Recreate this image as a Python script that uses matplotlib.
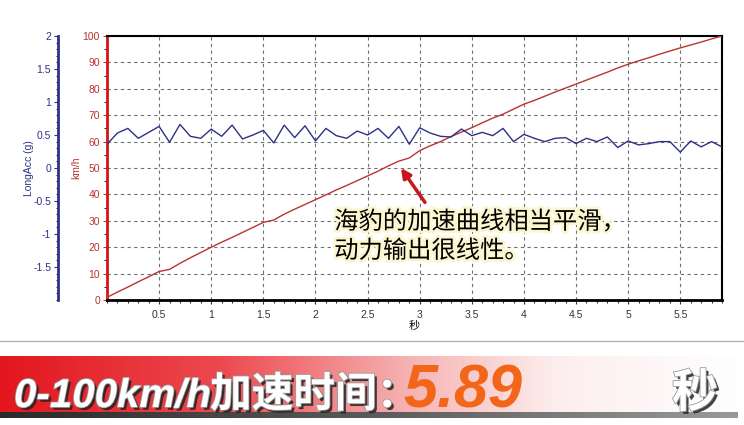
import numpy as np
import matplotlib
matplotlib.use('Agg')
import matplotlib.pyplot as plt
import matplotlib.patheffects as pe
from matplotlib import font_manager
from matplotlib.colors import LinearSegmentedColormap
from matplotlib.ticker import MultipleLocator

plt.rcParams['font.family'] = ['Liberation Sans', 'Noto Sans CJK SC', 'DejaVu Sans']

# samples every 0.1 s
time_s = np.round(np.arange(60) * 0.1, 1)

speed_kmh = [1.0, 3.0, 4.9, 6.9, 8.8, 10.8, 11.6, 13.9, 16.0, 18.0,
             20.0, 21.9, 23.7, 25.6, 27.5, 29.4, 30.3, 32.5, 34.4, 36.2,
             38.0, 39.8, 41.7, 43.4, 45.2, 47.0, 48.8, 50.8, 52.6, 53.8,
             56.6, 58.4, 60.0, 61.9, 63.6, 65.3, 67.1, 68.9, 70.4, 72.3,
             74.2, 75.6, 77.2, 78.8, 80.3, 81.8, 83.3, 84.8, 86.3, 87.9,
             89.3, 90.6, 91.8, 93.1, 94.3, 95.5, 96.6, 97.7, 98.9, 100.0]

long_acc_g = [0.36, 0.53, 0.60, 0.45, 0.54, 0.63, 0.39, 0.66, 0.48, 0.45,
              0.59, 0.48, 0.65, 0.44, 0.50, 0.57, 0.38, 0.65, 0.46, 0.64,
              0.41, 0.60, 0.49, 0.45, 0.56, 0.50, 0.60, 0.45, 0.63, 0.36,
              0.61, 0.53, 0.48, 0.47, 0.59, 0.49, 0.54, 0.49, 0.60, 0.40,
              0.51, 0.45, 0.40, 0.45, 0.46, 0.37, 0.45, 0.40, 0.47, 0.31,
              0.41, 0.35, 0.37, 0.40, 0.40, 0.24, 0.41, 0.32, 0.40, 0.32]

x_ticks = [0.5, 1, 1.5, 2, 2.5, 3, 3.5, 4, 4.5, 5, 5.5]
x_ticklabels = ['0.5', '1', '1.5', '2', '2.5', '3', '3.5', '4', '4.5', '5', '5.5']
speed_ticks = list(range(0, 101, 10))
acc_ticks = [-1.5, -1, -0.5, 0, 0.5, 1, 1.5, 2]
acc_ticklabels = ['-1.5', '-1', '-0.5', '0', '0.5', '1', '1.5', '2']

note_text = '海豹的加速曲线相当平滑，\n动力输出很线性。'
banner_left = '0-100km/h'
banner_cjk = '加速时间：'
banner_value = '5.89'
banner_unit = '秒'

red = '#b8342e'
blue = '#2e3185'

fig = plt.figure(figsize=(7.44, 4.25), dpi=100)

# background layer in pixel coordinates
bg = fig.add_axes([0, 0, 1, 1], zorder=-1)
bg.axis('off')
banner_cmap = LinearSegmentedColormap.from_list(
    'banner', [(0, '#e3161e'), (0.3, '#ec4a50'), (0.55, '#f6b3b3'),
               (0.75, '#fdeeee'), (1, '#ffffff')])
shadow_cmap = LinearSegmentedColormap.from_list('shadow', ['#2a2a2a', '#5a5a5a', '#9a9a9a'])
grad = np.linspace(0, 1, 256).reshape(1, -1)
bg.imshow(grad, cmap=banner_cmap, extent=(0, 744, 412, 356), aspect='auto')
bg.imshow(grad, cmap=shadow_cmap, extent=(0, 738, 418, 412), aspect='auto')
bg.plot([0, 744], [341, 341], color='#b5b5b5', lw=1)
bg.set_xlim(0, 744)
bg.set_ylim(425, 0)

names = {f.name for f in font_manager.fontManager.ttflist}
if 'Liberation Sans Narrow' in names:
    latin_font, latin_size = 'Liberation Sans Narrow', 36
else:
    latin_font, latin_size = 'Liberation Sans', 29

shadow_fx = [pe.SimplePatchShadow(offset=(2, -2), shadow_rgbFace='#222222', alpha=0.85),
             pe.Stroke(linewidth=1.2, foreground='#9a9a9a'), pe.Normal()]
bg.text(14, 407, banner_left, family=[latin_font, 'DejaVu Sans'], fontsize=latin_size,
        weight='bold', style='italic', color='white', va='baseline', path_effects=shadow_fx)
bg.text(210, 407, banner_cjk, family=['Noto Sans CJK SC'], fontsize=30,
        weight='bold', color='white', va='baseline', path_effects=shadow_fx)
bg.text(403, 407, banner_value, family=['Liberation Sans'], fontsize=44,
        weight='bold', style='italic', color='#f2661a', va='baseline')
bg.text(672, 407, banner_unit, family=['Noto Sans CJK SC'], fontsize=33,
        weight='bold', color='white', va='baseline', path_effects=shadow_fx)

# main chart
ax = fig.add_axes([107 / 744, 125 / 425, 615 / 744, 264 / 425])
ax.plot(time_s, speed_kmh, color=red, lw=1.0, zorder=3)
ax.set_xlim(0, 5.9)
ax.set_ylim(0, 100)
ax.set_xticks(x_ticks)
ax.set_xticklabels(x_ticklabels)
ax.xaxis.set_minor_locator(MultipleLocator(0.1))
ax.set_yticks(speed_ticks)
ax.yaxis.set_minor_locator(MultipleLocator(5))
ax.grid(True, which='major', color='#707070', linestyle=(0, (3, 3)), lw=0.8)
ax.tick_params(axis='x', labelsize=7.5, colors='#333333', length=3, pad=4)
ax.tick_params(axis='x', which='minor', length=2)
ax.tick_params(axis='y', labelsize=7.5, colors=red, length=3, pad=2)
ax.tick_params(axis='y', which='minor', length=2)
ax.set_xlabel('秒', family=['Noto Sans CJK SC'], fontsize=8, labelpad=1)
ax.set_ylabel('km/h', color=red, fontsize=7.5, labelpad=1)
for side in ['top', 'right']:
    ax.spines[side].set_linewidth(1.5)
ax.spines['bottom'].set_linewidth(2)
ax.spines['left'].set_color('#d01515')
ax.spines['left'].set_linewidth(2)

ax2 = ax.twinx()
ax2.plot(time_s, long_acc_g, color=blue, lw=1.0)
ax2.set_ylim(-2, 2)
ax2.yaxis.tick_left()
ax2.yaxis.set_label_position('left')
ax2.spines['left'].set_position(('outward', 49 * 0.72))
ax2.spines['left'].set_color(blue)
ax2.spines['left'].set_linewidth(2)
for side in ['right', 'top', 'bottom']:
    ax2.spines[side].set_visible(False)
ax2.set_yticks(acc_ticks)
ax2.set_yticklabels(acc_ticklabels)
ax2.yaxis.set_minor_locator(MultipleLocator(0.1))
ax2.tick_params(axis='y', labelsize=7.5, colors=blue, length=3, pad=2)
ax2.tick_params(axis='y', which='minor', length=1.5)
ax2.set_ylabel('LongAcc (g)', color=blue, fontsize=7.5, labelpad=-1)

ax.annotate('', xy=(2.82, 50), xytext=(3.05, 37),
            arrowprops=dict(arrowstyle='-|>', color='#c8161d', lw=2.5,
                            mutation_scale=14, shrinkA=0, shrinkB=0), zorder=5)
ax.text(2.18, 34.5, note_text, family=['Noto Sans CJK SC'], fontsize=17.5,
        color='black', va='top', ha='left', linespacing=1.15, zorder=6,
        path_effects=[pe.withStroke(linewidth=4, foreground='#fbf6cf')])

fig.savefig('out.png', dpi=100)
